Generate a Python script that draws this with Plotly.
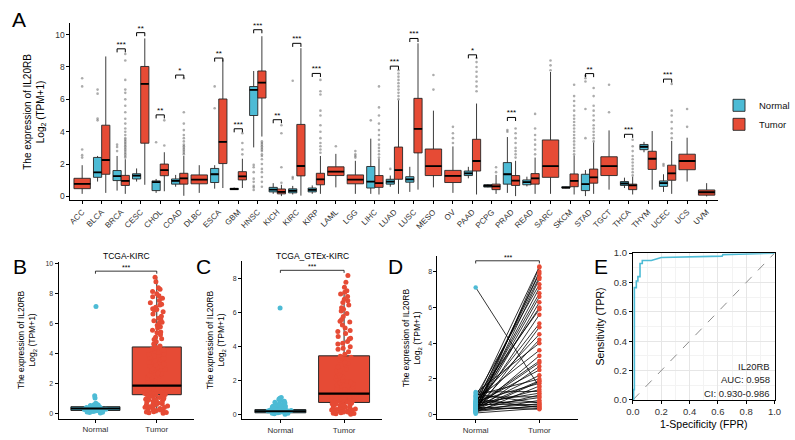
import plotly.graph_objects as go

W, H = 795, 440
FONT = "Liberation Sans, Arial, sans-serif"
NORMAL_C = "#4DBBD5"
TUMOR_C = "#E64B35"

# ---------------- Panel A data ----------------
cancers = ["ACC", "BLCA", "BRCA", "CESC", "CHOL", "COAD", "DLBC", "ESCA", "GBM", "HNSC",
           "KICH", "KIRC", "KIRP", "LAML", "LGG", "LIHC", "LUAD", "LUSC", "MESO", "OV",
           "PAAD", "PCPG", "PRAD", "READ", "SARC", "SKCM", "STAD", "TGCT", "THCA", "THYM",
           "UCEC", "UCS", "UVM"]

# [lower whisker, q1, median, q3, upper whisker]; None = no normal samples
normal_stats = [
    None, [0.92, 1.18, 1.49, 2.41, 2.5], [0.36, 0.98, 1.25, 1.6, 2.5], [0.92, 1.08, 1.28, 1.4, 1.73],
    [0.22, 0.36, 0.88, 0.96, 1.08], [0.6, 0.76, 0.96, 1.08, 1.33], None, [0.48, 0.86, 1.37, 1.73, 1.93],
    [0.4, 0.42, 0.46, 0.5, 0.55], [3.03, 5.0, 6.59, 6.79, 7.75], [0.16, 0.28, 0.42, 0.56, 0.82],
    [0.12, 0.22, 0.35, 0.47, 0.65], [0.16, 0.28, 0.4, 0.52, 0.68], None, None,
    [0.16, 0.52, 0.92, 1.85, 3.57], [0.6, 0.76, 0.92, 1.06, 1.29], [0.28, 0.88, 1.06, 1.22, 1.83],
    None, None, [1.12, 1.29, 1.43, 1.57, 1.83], [0.56, 0.58, 0.66, 0.72, 0.76],
    [0.22, 0.76, 1.37, 2.09, 3.67], [0.62, 0.72, 0.88, 1.02, 1.22], None,
    [0.5, 0.52, 0.55, 0.6, 0.62], [0.02, 0.36, 0.76, 1.37, 1.63], None,
    [0.52, 0.68, 0.8, 0.92, 1.16], [2.73, 2.89, 3.07, 3.21, 3.37], [0.28, 0.62, 0.82, 0.96, 1.37],
    None, None]

tumor_stats = [
    [0.16, 0.48, 0.78, 1.12, 1.93], [0.22, 1.37, 2.25, 4.4, 8.65], [0.16, 0.68, 0.96, 1.3, 2.3],
    [0.72, 3.29, 6.95, 8.03, 9.76], [0.32, 1.28, 1.63, 2.0, 2.73], [0.04, 0.76, 1.12, 1.43, 2.5],
    [0.22, 0.78, 1.04, 1.33, 1.93], [0.52, 2.03, 3.37, 6.02, 8.47], [0.52, 1.02, 1.24, 1.53, 2.33],
    [3.7, 6.08, 7.03, 7.75, 9.9], [0.02, 0.16, 0.28, 0.46, 0.72], [0.05, 1.27, 1.88, 4.45, 9.16],
    [0.16, 0.72, 1.06, 1.43, 2.5], [0.56, 1.29, 1.53, 1.83, 2.63], [0.16, 0.78, 1.04, 1.33, 2.2],
    [0.12, 0.56, 0.82, 1.29, 2.33], [0.16, 1.06, 1.63, 3.05, 5.94], [0.42, 2.69, 4.18, 6.06, 9.46],
    [0.56, 1.29, 1.87, 2.93, 5.3], [0.22, 0.86, 1.27, 1.61, 3.09], [0.12, 1.57, 2.19, 3.53, 5.74],
    [0.16, 0.42, 0.62, 0.76, 1.33], [0.02, 0.68, 0.98, 1.29, 2.2], [0.16, 0.76, 1.12, 1.41, 2.4],
    [0.16, 1.18, 1.87, 3.49, 7.69], [0.12, 0.6, 0.96, 1.39, 2.53], [0.16, 0.82, 1.18, 1.69, 3.33],
    [0.42, 1.29, 1.87, 2.45, 4.08], [0.12, 0.42, 0.68, 0.76, 1.22], [0.42, 1.67, 2.33, 2.79, 4.04],
    [0.16, 1.0, 1.43, 1.93, 3.43], [0.92, 1.65, 2.19, 2.61, 3.63], [0.0, 0.08, 0.26, 0.4, 0.82]]

normal_outliers = [
    [], [4.7, 4.82, 6.35, 6.6], [2.8, 3.05, 3.2], [], [3.35], [], [], [5.45, 6.8], [],
    [0.4, 0.55, 0.65, 0.9, 1.1, 1.5, 1.8, 1.95], [], [1.1, 1.2, 7.15], [], [], [],
    [4.7], [1.7], [], [], [], [], [], [4.0, 4.1], [], [], [], [3.6, 5.4, 7.1, 7.3, 7.45],
    [], [], [], [1.9, 2.0], [], []]

tumor_outliers = [
    [2.4, 2.55, 2.9, 6.8, 7.3], [],
    [2.4, 2.5, 2.6, 2.7, 2.8, 2.9, 3.0, 3.1, 3.2, 3.3, 3.4, 3.5, 3.6, 3.8, 4.0, 4.2, 4.5, 4.8,
     5.2, 5.6, 6.0, 6.4, 6.6, 7.2, 8.4, 8.8],
    [], [3.15, 4.7],
    [2.6, 2.7, 2.8, 2.9, 3.0, 3.1, 3.2, 3.4, 3.6, 3.8, 4.1, 4.5, 5.2, 7.3],
    [], [], [2.6, 2.9, 3.3, 3.9],
    [0.6, 0.9, 1.2, 1.5, 1.7, 2.0, 2.3, 2.5, 2.6, 2.8, 2.9, 3.0, 3.1, 3.2, 3.3, 3.4],
    [0.85, 1.8, 3.9, 4.4], [],
    [2.7, 2.9, 3.1, 3.3, 3.6, 4.0, 4.4, 5.0, 5.3, 6.3, 6.5, 7.2],
    [3.1], [2.4, 2.5, 2.6, 2.8],
    [2.4, 2.6, 2.8, 3.0, 3.2, 3.5, 3.8, 4.1, 4.5, 5.0, 5.5, 6.8],
    [6.0, 6.2, 6.4, 6.6, 6.8, 7.0, 7.2, 7.4, 7.6, 7.8], [],
    [6.6, 7.5], [3.3, 3.6, 3.9, 4.3],
    [6.5, 6.8, 7.1, 7.4, 7.7, 8.0, 8.3, 8.55], [1.5, 1.8],
    [2.4, 2.6, 2.8, 3.0, 3.3, 3.6, 3.9, 4.2], [2.6, 2.9, 3.2, 3.5, 3.8, 4.2, 5.1],
    [7.8, 8.1, 8.4],
    [2.6, 2.8, 3.0, 3.2, 3.4, 3.6, 3.8, 4.0, 4.2, 4.4, 4.6, 4.8, 5.0, 5.3, 5.6, 5.9, 6.2, 6.9],
    [3.4, 3.6, 3.8, 4.0, 4.2, 4.4, 4.7, 5.0, 5.3, 5.6, 6.2, 6.7],
    [5.2, 6.9], [1.3, 1.5, 1.7, 1.9, 2.1, 2.3, 2.5, 2.8, 3.1, 3.5], [],
    [3.6, 3.9, 4.2, 4.6, 5.0, 5.3, 6.95], [4.3, 5.4], []]

sig_cancers = ["BRCA", "CESC", "CHOL", "COAD", "ESCA", "GBM", "HNSC", "KICH", "KIRC", "KIRP",
               "LUAD", "LUSC", "PAAD", "PRAD", "STAD", "THCA", "UCEC"]
sig_levels = [9.12, 10.12, 5.04, 7.5, 8.55, 4.18, 10.3, 4.74, 9.46, 7.6,
              8.05, 9.76, 8.75, 4.88, 7.59, 3.84, 7.25]
sig_labels = ["***", "**", "**", "*", "**", "***", "***", "**", "***", "***",
              "***", "***", "*", "***", "**", "***", "***"]

# ---------------- Panels B-D groups ----------------
groups = ["Normal", "Tumor"]

# Panel B (TCGA-KIRC): [lower whisker, q1, median, q3, upper whisker]
b_normal_box = [0.05, 0.22, 0.35, 0.47, 0.7]
b_tumor_box = [0.03, 1.27, 1.88, 4.45, 9.1]
b_normal = [0.05, 0.08, 0.1, 0.12, 0.15, 0.18, 0.2, 0.22, 0.24, 0.26, 0.28, 0.3, 0.31, 0.33,
            0.35, 0.37, 0.39, 0.41, 0.43, 0.45, 0.48, 0.5, 0.55, 0.6, 0.65, 0.7, 1.05, 1.2,
            7.15, 0.15, 0.25, 0.3, 0.38, 0.2, 0.42, 0.58, 0.34]
b_tumor = [0.03, 0.06, 0.11, 0.14, 0.19, 0.22, 0.27, 0.31, 0.35, 0.38, 0.43, 0.47, 0.51, 0.55,
           0.58, 0.63, 0.67, 0.71, 0.74, 0.79, 0.83, 0.86, 0.91, 0.94, 0.98, 1.02, 1.05, 1.09,
           1.13, 1.17, 1.21, 1.24, 0.09, 0.25, 0.41, 0.6, 0.77, 0.97,
           1.28, 1.31, 1.35, 1.37, 1.41, 1.44, 1.47, 1.5, 1.53, 1.57, 1.6, 1.63, 1.66, 1.69,
           1.72, 1.76, 1.79, 1.82, 1.85, 1.87, 1.39, 1.55, 1.71, 1.3, 1.62, 1.48, 1.8, 1.34,
           1.67, 1.75, 1.43, 1.58, 1.84, 1.52, 1.7, 1.36, 1.64,
           1.91, 1.97, 2.05, 2.12, 2.2, 2.28, 2.36, 2.45, 2.53, 2.62, 2.7, 2.81, 2.9, 3.0,
           3.1, 3.2, 3.31, 3.42, 3.53, 3.65, 3.77, 3.88, 4.0, 4.12, 4.24, 4.36, 4.43, 2.16,
           2.4, 2.67, 2.95, 3.25, 3.6, 3.95, 4.3, 2.02, 2.58, 3.15, 3.7, 4.18,
           4.52, 4.65, 4.8, 4.95, 5.1, 5.26, 5.4, 5.57, 5.72, 5.9, 6.05, 6.2, 6.36, 6.5, 6.64,
           6.8, 6.95, 7.1, 7.24, 7.4, 7.55, 7.7, 7.86, 8.0, 8.15, 8.3, 8.4, 8.8, 9.1, 5.0,
           5.8, 6.3, 6.9, 7.3, 7.8, 6.1, 5.45, 7.0]

# Panel C (TCGA_GTEx-KIRC)
c_normal_box = [0.02, 0.1, 0.19, 0.29, 0.55]
c_tumor_box = [0.02, 0.71, 1.23, 3.46, 7.3]
c_normal = [0.02, 0.05, 0.07, 0.1, 0.12, 0.14, 0.16, 0.17, 0.19, 0.2, 0.21, 0.23, 0.24, 0.26,
            0.27, 0.29, 0.3, 0.32, 0.34, 0.36, 0.38, 0.4, 0.42, 0.45, 0.48, 0.5, 0.53, 0.56,
            0.6, 0.64, 0.68, 0.72, 0.78, 0.85, 0.9, 0.95, 1.0, 0.08, 0.13, 0.18, 0.22, 0.25,
            0.31, 0.44, 0.58, 0.82, 6.28]
c_tumor = [0.02, 0.05, 0.08, 0.11, 0.14, 0.17, 0.2, 0.23, 0.27, 0.3, 0.34, 0.37, 0.41, 0.44,
           0.48, 0.52, 0.55, 0.59, 0.63, 0.66, 0.7, 0.1, 0.25, 0.4, 0.57, 0.32, 0.06, 0.46,
           0.61, 0.15, 0.68, 0.38, 0.21,
           0.73, 0.76, 0.79, 0.82, 0.85, 0.88, 0.91, 0.94, 0.97, 1.0, 1.03, 1.06, 1.09, 1.12,
           1.15, 1.18, 1.21, 0.8, 0.9, 1.0, 1.1, 1.2, 0.75, 0.86, 0.98, 1.08, 1.17, 0.95,
           1.13, 0.83, 1.04, 0.92,
           1.27, 1.33, 1.4, 1.48, 1.55, 1.63, 1.72, 1.8, 1.9, 2.0, 2.1, 2.2, 2.32, 2.44, 2.56,
           2.68, 2.8, 2.93, 3.06, 3.2, 3.33, 3.44, 1.5, 1.85, 2.25, 2.6, 3.0, 3.38, 1.36, 1.95,
           3.55, 3.7, 3.85, 4.0, 4.15, 4.3, 4.45, 4.6, 4.78, 4.95, 5.1, 5.28, 5.45, 5.6, 5.78,
           5.95, 6.1, 6.3, 6.45, 6.6, 6.8, 6.95, 7.1, 7.2, 7.3, 7.5, 7.8, 8.2, 4.2, 4.9, 5.5,
           6.2, 6.7, 3.9, 4.5]

# Panel D (paired samples)
d_normal = [0.05, 0.09, 0.12, 0.14, 0.17, 0.19, 0.21, 0.23, 0.26, 0.27, 0.29, 0.31, 0.33, 0.34,
            0.36, 0.38, 0.40, 0.41, 0.43, 0.46, 0.47, 0.49, 0.52, 0.54, 0.57, 0.59, 0.61, 0.64,
            0.66, 0.69, 0.72, 0.75, 0.79, 0.83, 0.88, 0.93, 0.98, 1.02, 1.08, 1.15, 1.22, 1.26,
            7.13, 0.30, 0.18, 0.45, 0.62, 0.25]
d_tumor = [8.25, 0.35, 4.9, 1.6, 7.6, 0.8, 2.7, 6.3, 1.1, 0.45, 5.6, 3.3, 0.6, 8.0, 1.9, 4.2,
           0.3, 7.1, 2.2, 0.95, 6.8, 1.4, 3.0, 5.1, 0.55, 7.9, 2.5, 1.2, 6.0, 0.7, 4.5, 1.75,
           8.3, 3.6, 0.4, 5.9, 1.0, 7.3, 2.0, 0.65, 4.0, 1.3, 1.55, 6.6, 0.5, 2.9, 7.7, 1.85]

# ---------------- Panel E data (ROC) ----------------
roc_fpr = [0, 0.005, 0.005, 0.01, 0.01, 0.024, 0.024, 0.035, 0.035, 0.05, 0.05, 0.066, 0.066,
           0.13, 0.2, 0.63, 0.635, 0.97, 0.99, 1.0]
roc_tpr = [0, 0, 0.07, 0.07, 0.765, 0.765, 0.81, 0.81, 0.84, 0.84, 0.93, 0.93, 0.95, 0.95,
           0.97, 0.98, 0.99, 0.995, 1.0, 1.0]
diag = [0, 1]
roc_text = ["IL20RB", "AUC: 0.958", "CI: 0.930-0.986"]


# ---------------- helpers ----------------
def xdom(p0, p1):
    return [p0 / W, p1 / W]


def ydom(top, bottom):
    return [1 - bottom / H, 1 - top / H]


fig = go.Figure()
PAIR_OFF = 0.21
PAIR_W = 0.42
SINGLE_W = 0.84

paired = [i for i, s in enumerate(normal_stats) if s is not None]
single = [i for i, s in enumerate(normal_stats) if s is None]


def add_box(xs, stats, width, color, name, show, xa, ya, lw=0.9):
    fig.add_trace(go.Box(
        x=xs, lowerfence=[s[0] for s in stats], q1=[s[1] for s in stats],
        median=[s[2] for s in stats], q3=[s[3] for s in stats],
        upperfence=[s[4] for s in stats], width=width, fillcolor=color,
        line=dict(color="#262626", width=lw), whiskerwidth=0, boxpoints=False,
        name=name, legendgroup=name, showlegend=show, xaxis=xa, yaxis=ya,
        hoverinfo="skip"))


def add_medians(xs, meds, width, xa, ya, lw=2.0):
    mx, my = [], []
    for x, m in zip(xs, meds):
        mx += [x - width / 2, x + width / 2, None]
        my += [m, m, None]
    fig.add_trace(go.Scatter(x=mx, y=my, mode="lines", line=dict(color="black", width=lw),
                             showlegend=False, xaxis=xa, yaxis=ya, hoverinfo="skip"))


# ---------- Panel A ----------
add_box([i - PAIR_OFF for i in paired], [normal_stats[i] for i in paired], PAIR_W, NORMAL_C,
        "Normal", True, "x", "y")
add_box([i + PAIR_OFF for i in paired], [tumor_stats[i] for i in paired], PAIR_W, TUMOR_C,
        "Tumor", True, "x", "y")
add_box(single, [tumor_stats[i] for i in single], SINGLE_W, TUMOR_C, "Tumor", False, "x", "y")

med_x = [i - PAIR_OFF for i in paired] + [i + PAIR_OFF for i in paired]
med_y = [normal_stats[i][2] for i in paired] + [tumor_stats[i][2] for i in paired]
add_medians(med_x, med_y, PAIR_W, "x", "y", 1.8)
add_medians(single, [tumor_stats[i][2] for i in single], SINGLE_W, "x", "y", 1.8)

ox, oy = [], []
for i in range(len(cancers)):
    npos = i - PAIR_OFF
    tpos = i + PAIR_OFF if normal_stats[i] is not None else i
    for v in normal_outliers[i]:
        ox.append(npos); oy.append(v)
    for v in tumor_outliers[i]:
        ox.append(tpos); oy.append(v)
fig.add_trace(go.Scatter(x=ox, y=oy, mode="markers",
                         marker=dict(color="rgba(70,70,70,0.45)", size=2.6),
                         showlegend=False, xaxis="x", yaxis="y", hoverinfo="skip"))

bx, by, tx, ty = [], [], [], []
for c, lev in zip(sig_cancers, sig_levels):
    i = cancers.index(c)
    bx += [i - PAIR_OFF, i - PAIR_OFF, i + PAIR_OFF, i + PAIR_OFF, None]
    by += [lev - 0.22, lev, lev, lev - 0.22, None]
    tx.append(i); ty.append(lev)
fig.add_trace(go.Scatter(x=bx, y=by, mode="lines", line=dict(color="black", width=1),
                         showlegend=False, xaxis="x", yaxis="y", hoverinfo="skip"))
fig.add_trace(go.Scatter(x=tx, y=ty, mode="text", text=sig_labels, textposition="top center",
                         textfont=dict(size=8, color="black", family=FONT),
                         showlegend=False, xaxis="x", yaxis="y", hoverinfo="skip"))

GPOS = list(range(len(groups)))  # numeric group positions: Normal=0, Tumor=1


# ---------- Panels B & C ----------
def jitter_panel(nbox, tbox, nvals, tvals, xa, ya):
    add_box([GPOS[0]], [nbox], 0.8, NORMAL_C, "Normal", False, xa, ya, 1.0)
    add_box([GPOS[1]], [tbox], 0.8, TUMOR_C, "Tumor", False, xa, ya, 1.0)
    add_medians(GPOS, [nbox[2], tbox[2]], 0.8, xa, ya, 2.2)
    for g, vals, col in ((GPOS[0], nvals, NORMAL_C), (GPOS[1], tvals, TUMOR_C)):
        fig.add_trace(go.Box(x=[g] * len(vals), y=vals, boxpoints="all", jitter=0.5,
                             pointpos=0, width=0.8, fillcolor="rgba(0,0,0,0)",
                             line=dict(color="rgba(0,0,0,0)", width=0),
                             marker=dict(color=col, size=5), showlegend=False,
                             xaxis=xa, yaxis=ya, hoverinfo="skip"))


jitter_panel(b_normal_box, b_tumor_box, b_normal, b_tumor, "x2", "y2")
jitter_panel(c_normal_box, c_tumor_box, c_normal, c_tumor, "x3", "y3")

# ---------- Panel D ----------
lx, ly = [], []
for n, t in zip(d_normal, d_tumor):
    lx += [GPOS[0], GPOS[1], None]
    ly += [n, t, None]
fig.add_trace(go.Scatter(x=lx, y=ly, mode="lines", line=dict(color="black", width=0.8),
                         showlegend=False, xaxis="x4", yaxis="y4", hoverinfo="skip"))
fig.add_trace(go.Scatter(x=[GPOS[0]] * len(d_normal), y=d_normal, mode="markers",
                         marker=dict(color=NORMAL_C, size=4.5), showlegend=False,
                         xaxis="x4", yaxis="y4", hoverinfo="skip"))
fig.add_trace(go.Scatter(x=[GPOS[1]] * len(d_tumor), y=d_tumor, mode="markers",
                         marker=dict(color=TUMOR_C, size=4.5), showlegend=False,
                         xaxis="x4", yaxis="y4", hoverinfo="skip"))


# brackets for B, C, D
def bracket(xa, ya, lev, tick):
    fig.add_trace(go.Scatter(x=[GPOS[0], GPOS[0], GPOS[1], GPOS[1]],
                             y=[lev - tick, lev, lev, lev - tick], mode="lines",
                             line=dict(color="black", width=0.8), showlegend=False,
                             xaxis=xa, yaxis=ya, hoverinfo="skip"))
    fig.add_annotation(x=0.5, xref=xa + " domain", y=lev, yref=ya, text="***",
                       showarrow=False, yanchor="bottom", yshift=-2,
                       font=dict(size=7, color="black", family=FONT))


bracket("x2", "y2", 9.5, 0.17)
bracket("x3", "y3", 8.5, 0.15)
bracket("x4", "y4", 8.62, 0.15)

# ---------- Panel E ----------
fig.add_trace(go.Scatter(x=diag, y=diag, mode="lines",
                         line=dict(color="#8c8c8c", width=1, dash="dash"),
                         showlegend=False, xaxis="x5", yaxis="y5", hoverinfo="skip"))
fig.add_trace(go.Scatter(x=roc_fpr, y=roc_tpr, mode="lines",
                         line=dict(color=NORMAL_C, width=1.6),
                         showlegend=False, xaxis="x5", yaxis="y5", hoverinfo="skip"))
for t, yv in zip(roc_text, [0.227, 0.141, 0.047]):
    fig.add_annotation(x=0.982, xref="x5", y=yv, yref="y5", text=t, showarrow=False,
                       xanchor="right", yanchor="middle",
                       font=dict(size=9.5, color="#222", family=FONT))

# ---------------- layout ----------------
TICKC = "#333"
base = dict(showline=True, linecolor="black", linewidth=1, ticks="outside", ticklen=3,
            tickwidth=1, tickcolor="black", showgrid=False, zeroline=False,
            tickfont=dict(size=8, color=TICKC, family=FONT))

grp_axis = dict(range=[-0.6, 1.6], tickvals=GPOS, ticktext=groups,
                tickfont=dict(size=8, color=TICKC, family=FONT))

layout = dict(
    width=W, height=H, margin=dict(l=0, r=0, t=0, b=0),
    paper_bgcolor="white", plot_bgcolor="white", boxmode="overlay",
    font=dict(family=FONT, color="black"),
    showlegend=True,
    legend=dict(x=727 / W, y=1 - 87 / H, xanchor="left", yanchor="top",
                bgcolor="rgba(0,0,0,0)", font=dict(size=9.5, family=FONT, color="#111"),
                tracegroupgap=0, itemwidth=30),
    xaxis=dict(base, domain=xdom(64.75, 725.95), range=[-0.6, 32.6],
               tickvals=list(range(len(cancers))), ticktext=cancers, tickangle=-45,
               tickfont=dict(size=8, color=TICKC, family=FONT), anchor="y"),
    yaxis=dict(base, domain=ydom(17.7, 199.3), range=[-0.24, 10.7],
               tickvals=[0, 2, 4, 6, 8, 10], anchor="x",
               tickfont=dict(size=8.5, color=TICKC, family=FONT)),
    xaxis2=dict(base, **grp_axis, domain=xdom(52.7, 190.4), anchor="y2"),
    yaxis2=dict(base, domain=ydom(262.7, 423.3), range=[-0.33, 10.1],
                tickvals=[0, 2, 4, 6, 8, 10], anchor="x2",
                tickfont=dict(size=7, color=TICKC, family=FONT)),
    xaxis3=dict(base, **grp_axis, domain=xdom(240, 383), anchor="y3"),
    yaxis3=dict(base, domain=ydom(261.7, 424), range=[-0.29, 9.04],
                tickvals=[0, 2, 4, 6, 8], anchor="x3",
                tickfont=dict(size=7, color=TICKC, family=FONT)),
    xaxis4=dict(base, **grp_axis, domain=xdom(439.3, 582.3), anchor="y4"),
    yaxis4=dict(base, domain=ydom(256.2, 424), range=[-0.27, 8.9],
                tickvals=[0, 2, 4, 6, 8], anchor="x4",
                tickfont=dict(size=7, color=TICKC, family=FONT)),
    xaxis5=dict(base, domain=xdom(638.8, 783.3), range=[0, 1], dtick=0.2, tickformat=".1f",
                mirror=True, showgrid=True, gridcolor="#e6e6e6", anchor="y5",
                minor=dict(dtick=0.1, showgrid=True, gridcolor="#f3f3f3", ticks=""),
                tickfont=dict(size=9.5, color=TICKC, family=FONT), linewidth=1.2),
    yaxis5=dict(base, domain=ydom(253.5, 404), range=[0, 1], dtick=0.2, tickformat=".1f",
                mirror=True, showgrid=True, gridcolor="#e6e6e6", anchor="x5",
                minor=dict(dtick=0.1, showgrid=True, gridcolor="#f3f3f3", ticks=""),
                tickfont=dict(size=9.5, color=TICKC, family=FONT), linewidth=1.2),
)
fig.update_layout(**layout)

ytitle = "The expression of IL20RB<br>Log<sub>2</sub> (TPM+1)"


def pann(xp, yp, text, size, angle=0, xanchor="center", yanchor="middle", color="black"):
    fig.add_annotation(x=xp / W, y=1 - yp / H, xref="paper", yref="paper", text=text,
                       showarrow=False, textangle=angle, xanchor=xanchor, yanchor=yanchor,
                       font=dict(size=size, family=FONT, color=color))


pann(28, 108, ytitle, 10, -90)
pann(21, 342, ytitle, 8.5, -90)
pann(214, 342, ytitle, 8.5, -90)
pann(413, 340, ytitle, 8.5, -90)
pann(605, 329, "Sensitivity (TPR)", 10.5, -90)
pann(711, 429, "1-Specificity (FPR)", 10.5)
pann(122, 256, "TCGA-KIRC", 8.5)
pann(312, 256, "TCGA_GTEx-KIRC", 8.5)

for lab, xp, yp in (("A", 3, 0), ("B", 4, 253), ("C", 191, 253), ("D", 387, 253),
                    ("E", 597, 253)):
    pann(xp, yp, lab, 21, 0, "left", "top")

fig.write_html("out.html")
